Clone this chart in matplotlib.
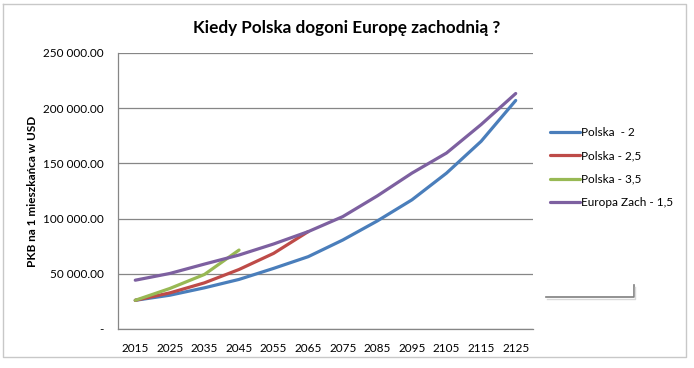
import matplotlib.pyplot as plt
from matplotlib.lines import Line2D
from matplotlib.ticker import FuncFormatter

plt.rcParams['font.family'] = ['Lato', 'DejaVu Sans']

years = ['2015', '2025', '2035', '2045', '2055', '2065', '2075', '2085', '2095', '2105', '2115', '2125']
polska_2 = [26000, 30600, 37300, 44900, 54900, 65500, 80600, 97900, 117000, 141200, 170000, 207000]
polska_25 = [26000, 32700, 41800, 53900, 68500, 88200]
polska_35 = [26000, 36700, 49400, 71500]
europa_15 = [44200, 50300, 58800, 67000, 77000, 88200, 101800, 120600, 141200, 159400, 185200, 213300]

series = [
    ('Polska  - 2', polska_2, '#4a7ebb'),
    ('Polska - 2,5', polska_25, '#be4b48'),
    ('Polska - 3,5', polska_35, '#98b954'),
    ('Europa Zach - 1,5', europa_15, '#7d60a0'),
]

fig = plt.figure(figsize=(6.94, 3.68), dpi=100)
ax = fig.add_axes([0.170, 0.106, 0.598, 0.750])

x = list(range(len(years)))
for name, vals, col in series:
    ax.plot(x[:len(vals)], vals, color=col, lw=2.3, label=name, solid_capstyle='round')

ax.set_xlim(-0.5, len(years) - 0.5)
ax.set_ylim(0, 250000)
ax.set_yticks(range(0, 250001, 50000))
ax.yaxis.set_major_formatter(FuncFormatter(
    lambda v, p: '-' if v == 0 else f'{v:,.2f}'.replace(',', ' ')))
ax.set_xticks(x)
ax.set_xticklabels(years)
ax.grid(axis='y', color='#868686', lw=0.9)
ax.set_axisbelow(True)
for s in ['top', 'right']:
    ax.spines[s].set_visible(False)
for s in ['left', 'bottom']:
    ax.spines[s].set_color('#868686')
    ax.spines[s].set_linewidth(0.9)
ax.tick_params(length=0, labelsize=8.5, colors='black', pad=10)
ax.tick_params(axis='y', pad=10)

ax.set_ylabel('PKB na 1 mieszkańca w USD', fontsize=8.5, fontweight='bold', labelpad=4)
fig.text(0.5, 0.924, 'Kiedy Polska dogoni Europę zachodnią ?', ha='center', va='center',
         fontsize=12.3, fontweight='bold')

ax.legend(loc='center left', bbox_to_anchor=(0.785, 0.545), bbox_transform=fig.transFigure,
          frameon=False, fontsize=8.5, handlelength=2.6, handletextpad=0.1,
          labelspacing=1.05, borderaxespad=0)

# Excel chart frame and selection leftovers
W, H = 694, 368
def fl(xs, ys, **kw):
    fig.add_artist(Line2D([v / W for v in xs], [1 - v / H for v in ys],
                          transform=fig.transFigure, **kw))
fl([3, 686, 686, 3, 3], [4, 4, 357, 357, 4], color='#c8c8c8', lw=1)
fl([546, 634, 634], [297, 297, 285], color='#7f7f7f', lw=1.2)
fl([547, 635, 635], [299, 299, 287], color='#d9d9d9', lw=1)

fig.savefig('out.png', dpi=100)
